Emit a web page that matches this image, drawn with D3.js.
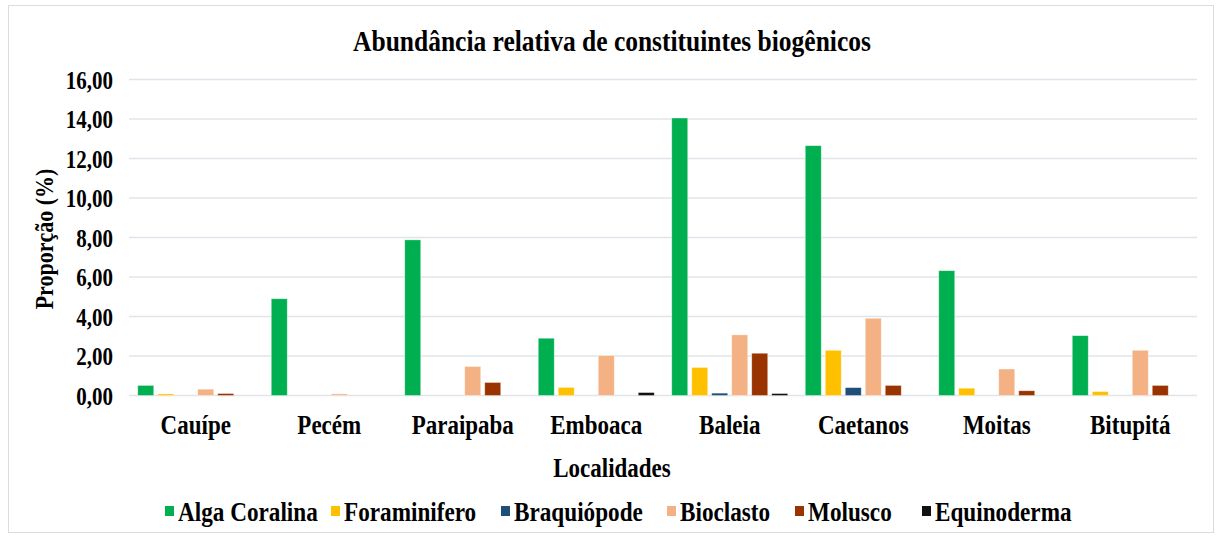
<!DOCTYPE html>
<html>
<head>
<meta charset="utf-8">
<script src="https://cdn.jsdelivr.net/npm/d3@7"></script>
<style>
  html, body { margin: 0; padding: 0; background: #fff; }
  svg { display: block; }
  text { font-family: "Liberation Serif", "Times New Roman", serif; font-weight: bold; fill: #000; }
</style>
</head>
<body>
<svg id="chart" width="1216" height="536"></svg>
<script>
const categories = ["Cauípe", "Pecém", "Paraipaba", "Emboaca", "Baleia", "Caetanos", "Moitas", "Bitupitá"];
const seriesNames = ["Alga Coralina", "Foraminifero", "Braquiópode", "Bioclasto", "Molusco", "Equinoderma"];
const algaCoralina = [0.51, 4.90, 7.88, 2.90, 14.05, 12.65, 6.32, 3.03];
const foraminifero = [0.08, 0.00, 0.00, 0.41, 1.42, 2.29, 0.37, 0.20];
const braquiopode  = [0.00, 0.00, 0.00, 0.00, 0.12, 0.40, 0.00, 0.00];
const bioclasto    = [0.32, 0.08, 1.47, 2.02, 3.07, 3.91, 1.34, 2.29];
const molusco      = [0.10, 0.00, 0.66, 0.00, 2.14, 0.51, 0.24, 0.51];
const equinoderma  = [0.00, 0.00, 0.00, 0.15, 0.10, 0.00, 0.00, 0.00];
const yTicks = [0, 2, 4, 6, 8, 10, 12, 14, 16];
const colors = ["#00B050", "#FFC000", "#1F4E79", "#F4B183", "#993300", "#111111"];

const seriesValues = [algaCoralina, foraminifero, braquiopode, bioclasto, molusco, equinoderma];

const svg = d3.select("#chart");
const SY = 1.18; // vertical stretch of text as in the reference

// outer frame
svg.append("rect").attr("x", 8.5).attr("y", 5.5).attr("width", 1205).attr("height", 527)
  .attr("fill", "#fff").attr("stroke", "#D9DDE3").attr("stroke-width", 1);

const plot = { left: 129, right: 1197, top: 79.5, bottom: 395.5 };

const x0 = d3.scaleBand().domain(categories).range([plot.left, plot.right]).paddingInner(0).paddingOuter(0);
const bw = x0.bandwidth();
const groupW = 116;
const x1 = d3.scaleBand().domain(seriesNames).range([(bw - groupW) / 2, (bw + groupW) / 2]).paddingInner(0.2).paddingOuter(0);
const y = d3.scaleLinear().domain([0, 16]).range([plot.bottom, plot.top]);

function addText(x, yy, str, size, anchor, rotate) {
  const g = svg.append("g").attr("transform", `translate(${x},${yy})` + (rotate ? ` rotate(${rotate})` : "") + ` scale(1,${SY})`);
  g.append("text").attr("text-anchor", anchor || "middle").attr("dy", "0.35em")
    .style("font-size", size + "px").text(str);
  return g;
}

// gridlines
svg.append("g").selectAll("line").data(yTicks).join("line")
  .attr("x1", plot.left).attr("x2", plot.right)
  .attr("y1", d => y(d)).attr("y2", d => y(d))
  .attr("stroke", "#E1E4EA").attr("stroke-width", 1.5);

// y axis labels
const fmt = d => d.toFixed(2).replace(".", ",");
const yAxis = d3.axisLeft(y).tickValues(yTicks).tickFormat(fmt).tickSize(0).tickPadding(16);
const gy = svg.append("g").attr("transform", `translate(${plot.left},0)`).call(yAxis);
gy.select(".domain").remove();
gy.selectAll("text").style("font-size", "21px").style("font-family", "Liberation Serif").style("font-weight", "bold")
  .attr("dy", "0.35em").attr("transform", `scale(1,${SY})`);

// x axis labels
const xAxis = d3.axisBottom(x0).tickSize(0).tickPadding(0);
const gx = svg.append("g").attr("transform", `translate(0,${plot.bottom + 29})`).call(xAxis);
gx.select(".domain").remove();
gx.selectAll("text").style("font-size", "23px").style("font-family", "Liberation Serif").style("font-weight", "bold")
  .attr("y", 0).attr("dy", "0.35em").attr("transform", `scale(1,${SY})`);

// bars
const groups = svg.append("g").selectAll("g").data(categories).join("g")
  .attr("transform", d => `translate(${x0(d)},0)`);
groups.selectAll("rect")
  .data((c, i) => seriesNames.map((s, j) => ({ s, j, v: seriesValues[j][i] })).filter(d => d.v > 0))
  .join("rect")
  .attr("x", d => x1(d.s))
  .attr("width", x1.bandwidth())
  .attr("y", d => y(d.v))
  .attr("height", d => y(0) - y(d.v))
  .attr("fill", d => colors[d.j])
  .attr("stroke", "#ffffff").attr("stroke-opacity", 0.5).attr("stroke-width", 0.75);

// title
addText(612, 40, "Abundância relativa de constituintes biogênicos", 25.5, "middle");

// axis titles
addText(612, 467, "Localidades", 23, "middle");
addText(44, 239, "Proporção (%)", 22, "middle", -90);

// legend
const legendTextX = [178, 344, 514, 680, 808, 935];
seriesNames.forEach((s, i) => {
  svg.append("rect").attr("x", legendTextX[i] - 13).attr("y", 506).attr("width", 9).attr("height", 10)
    .attr("fill", colors[i]);
  addText(legendTextX[i], 511, s, 23.2, "start");
});
</script>
</body>
</html>
